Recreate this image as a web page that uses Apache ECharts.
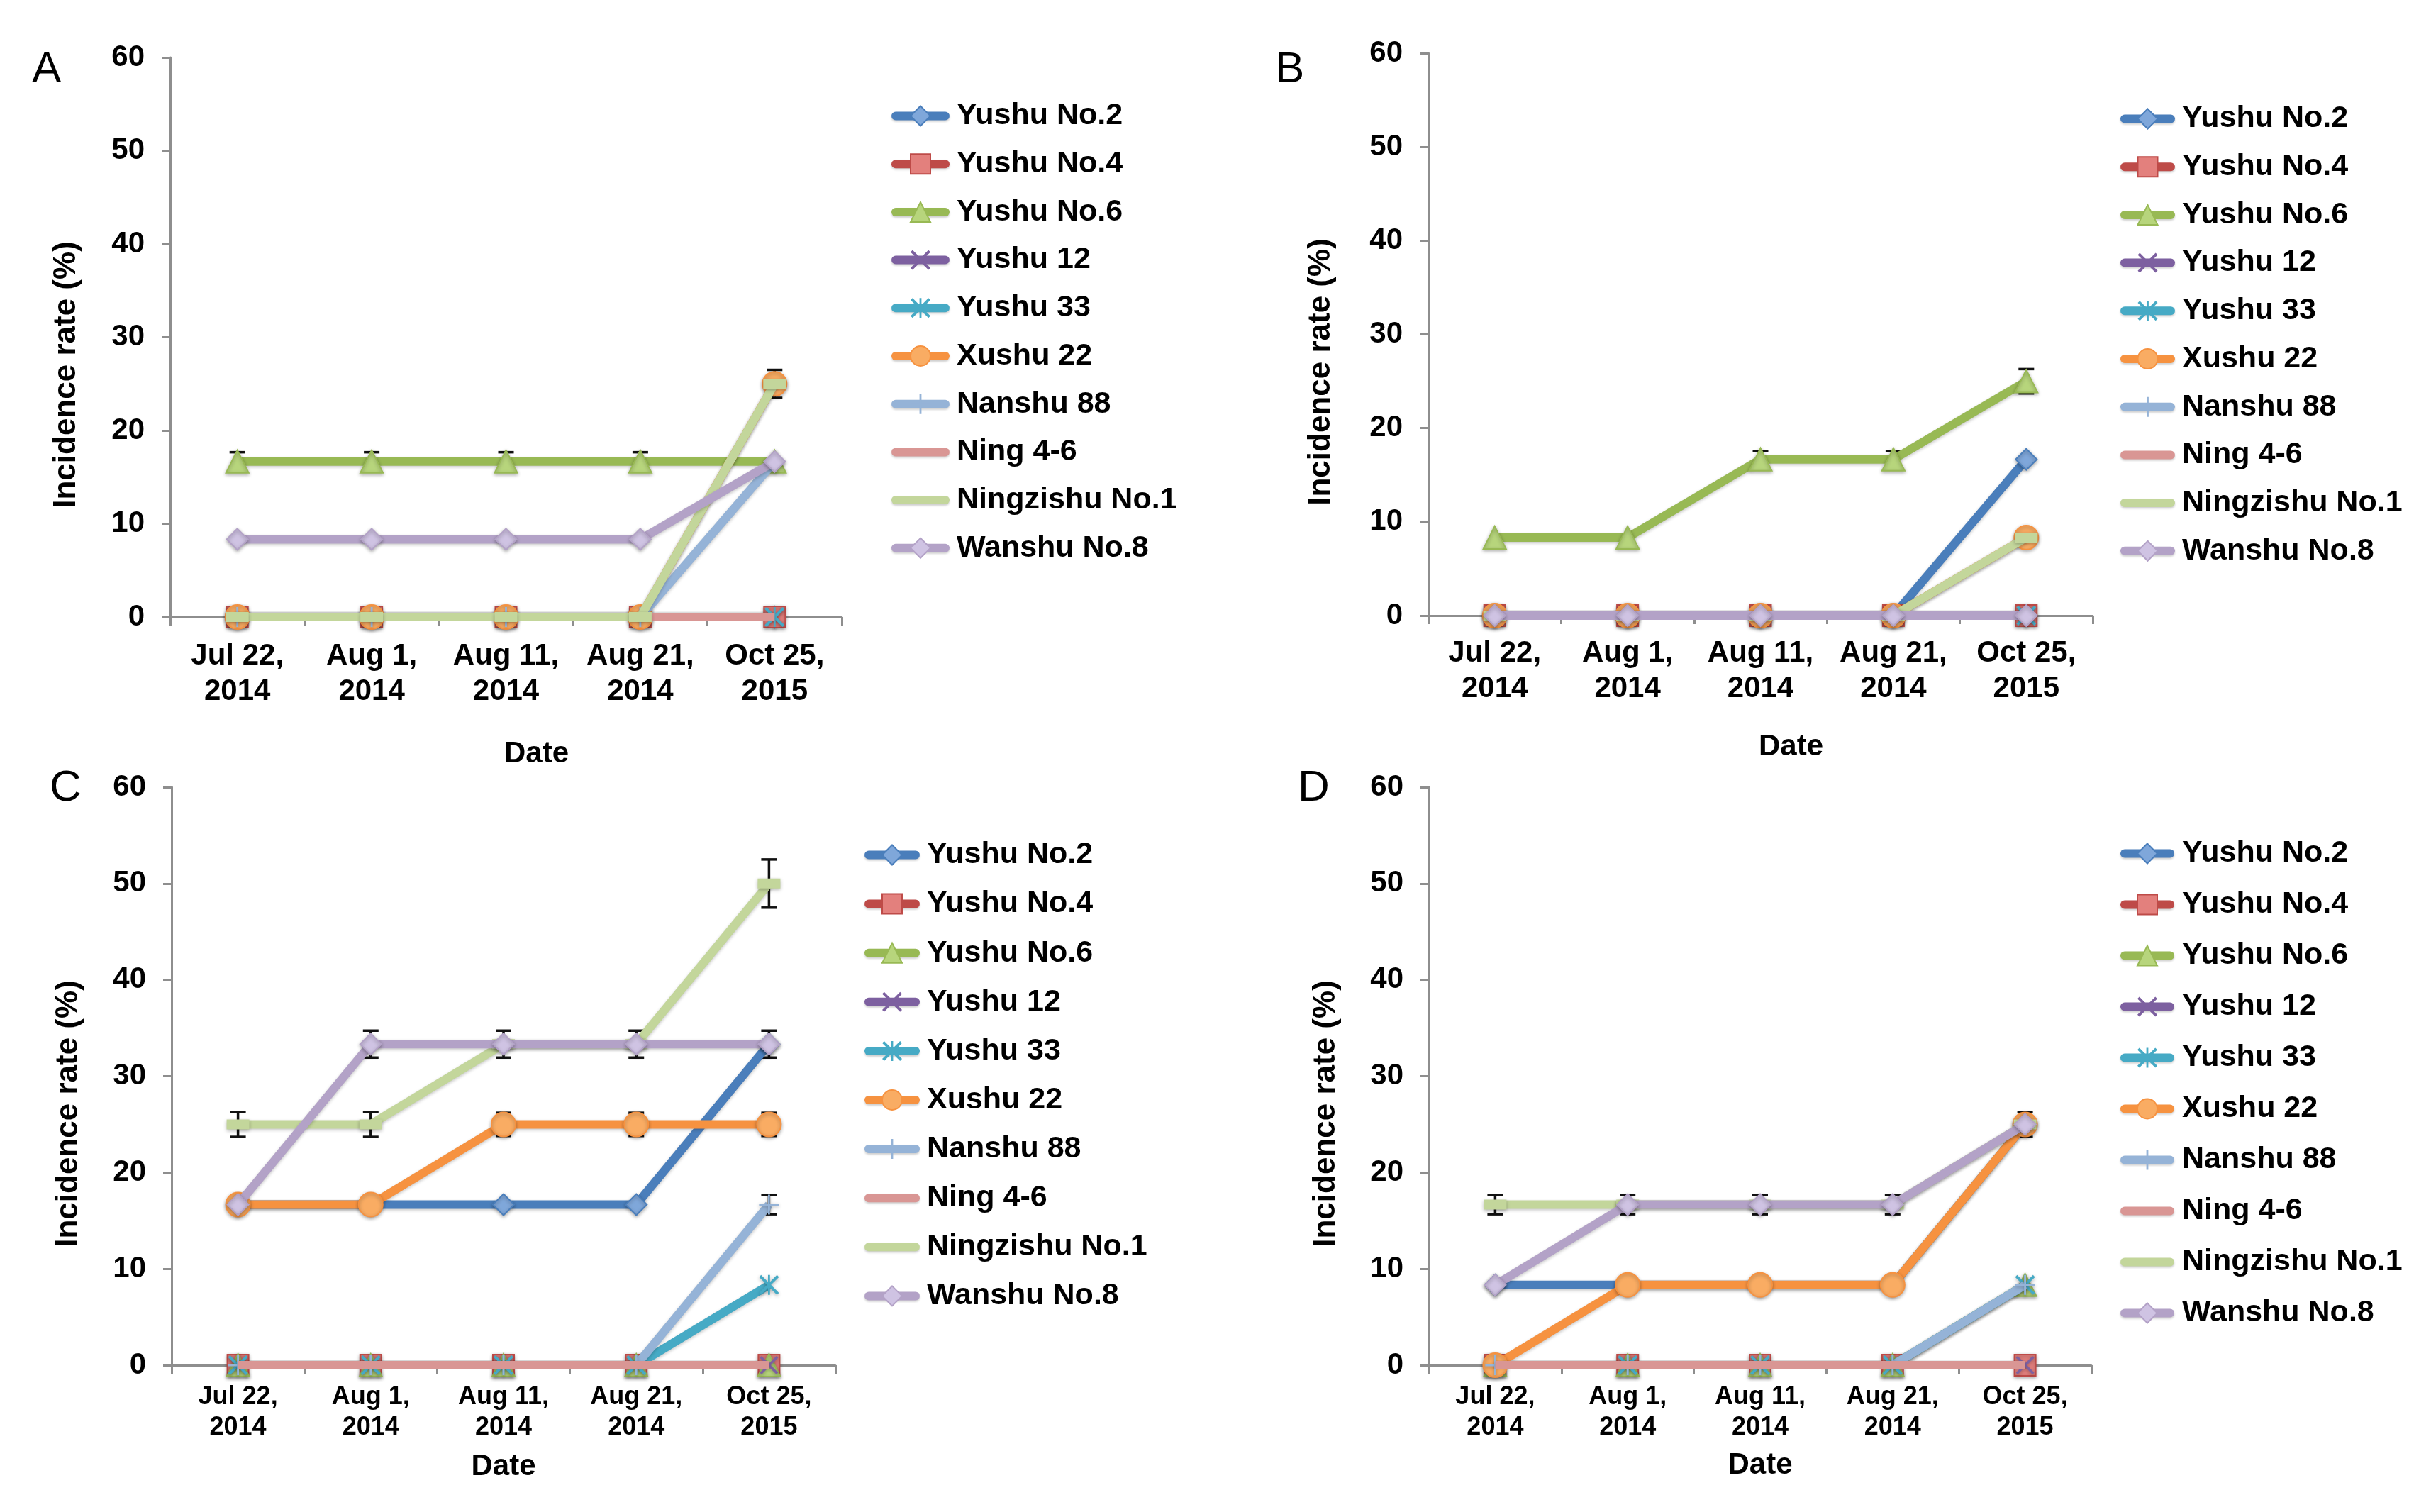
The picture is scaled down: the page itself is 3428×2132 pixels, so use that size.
<!DOCTYPE html>
<html>
<head>
<meta charset="utf-8">
<script src="https://cdn.jsdelivr.net/npm/echarts@6/dist/echarts.min.js"></script>
<style>
html,body{margin:0;padding:0;background:#fff;}
#chart{width:3428px;height:2132px;}
</style>
</head>
<body>
<div id="chart"></div>
<script>
// ---------- data ----------
const categories = ['Jul 22,\n2014', 'Aug 1,\n2014', 'Aug 11,\n2014', 'Aug 21,\n2014', 'Oct 25,\n2015'];
const seriesNames = ['Yushu No.2', 'Yushu No.4', 'Yushu No.6', 'Yushu 12', 'Yushu 33',
  'Xushu 22', 'Nanshu 88', 'Ning 4-6', 'Ningzishu No.1', 'Wanshu No.8'];
const panelLetters = ['A', 'B', 'C', 'D'];
const yMin = 0, yMax = 60, yStep = 10;

// Incidence rate (%) per series (rows in seriesNames order), per date
const valuesA = [
  [0, 0, 0, 0, 0],
  [0, 0, 0, 0, 0],
  [16.67, 16.67, 16.67, 16.67, 16.67],
  [0, 0, 0, 0, 0],
  [0, 0, 0, 0, 0],
  [0, 0, 0, 0, 25],
  [0, 0, 0, 0, 16.67],
  [0, 0, 0, 0, 0],
  [0, 0, 0, 0, 25],
  [8.33, 8.33, 8.33, 8.33, 16.67]
];
const valuesB = [
  [0, 0, 0, 0, 16.67],
  [0, 0, 0, 0, 0],
  [8.33, 8.33, 16.67, 16.67, 25],
  [0, 0, 0, 0, 0],
  [0, 0, 0, 0, 0],
  [0, 0, 0, 0, 8.33],
  [0, 0, 0, 0, 0],
  [0, 0, 0, 0, 0],
  [0, 0, 0, 0, 8.33],
  [0, 0, 0, 0, 0]
];
const valuesC = [
  [16.67, 16.67, 16.67, 16.67, 33.33],
  [0, 0, 0, 0, 0],
  [0, 0, 0, 0, 0],
  [0, 0, 0, 0, 0],
  [0, 0, 0, 0, 8.33],
  [16.67, 16.67, 25, 25, 25],
  [0, 0, 0, 0, 16.67],
  [0, 0, 0, 0, 0],
  [25, 25, 33.33, 33.33, 50],
  [16.67, 33.33, 33.33, 33.33, 33.33]
];
const valuesD = [
  [8.33, 8.33, 8.33, 8.33, 25],
  [0, 0, 0, 0, 0],
  [0, 0, 0, 0, 8.33],
  [0, 0, 0, 0, 0],
  [0, 0, 0, 0, 8.33],
  [0, 8.33, 8.33, 8.33, 25],
  [0, 0, 0, 0, 8.33],
  [0, 0, 0, 0, 0],
  [16.67, 16.67, 16.67, 16.67, 25],
  [8.33, 16.67, 16.67, 16.67, 25]
];

// error bars: [series name, date index, +/- error]
const errorsA = [
  ['Yushu No.6', 0, 1.0], ['Yushu No.6', 1, 1.0], ['Yushu No.6', 2, 1.0], ['Yushu No.6', 3, 1.0],
  ['Xushu 22', 4, 1.5]
];
const errorsB = [
  ['Yushu No.6', 2, 0.9], ['Yushu No.6', 3, 0.9], ['Yushu No.6', 4, 1.3]
];
const errorsC = [
  ['Ningzishu No.1', 0, 1.3], ['Ningzishu No.1', 1, 1.3], ['Ningzishu No.1', 4, 2.5],
  ['Wanshu No.8', 1, 1.4], ['Wanshu No.8', 2, 1.4], ['Wanshu No.8', 3, 1.4], ['Wanshu No.8', 4, 1.4],
  ['Xushu 22', 2, 1.2], ['Xushu 22', 3, 1.2], ['Xushu 22', 4, 1.2],
  ['Nanshu 88', 4, 1.0]
];
const errorsD = [
  ['Ningzishu No.1', 0, 1.0],
  ['Wanshu No.8', 1, 1.0], ['Wanshu No.8', 2, 1.0], ['Wanshu No.8', 3, 1.0],
  ['Xushu 22', 4, 1.3]
];

const panelValues = [valuesA, valuesB, valuesC, valuesD];
const panelErrors = [errorsA, errorsB, errorsC, errorsD];

// ---------- styles ----------
const X_PATH = 'path://M0,2 L2,0 L10,8 L18,0 L20,2 L12,10 L20,18 L18,20 L10,12 L2,20 L0,18 L8,10 Z';
const AST_PATH = 'path://M0,2 L2,0 L10,8 L18,0 L20,2 L12,10 L20,18 L18,20 L10,12 L2,20 L0,18 L8,10 Z M9,0 L11,0 L11,20 L9,20 Z';
const PLUS_PATH = 'path://M9,0 L11,0 L11,20 L9,20 Z M0,9 L20,9 L20,11 L0,11 Z';
const DASH_PATH = 'path://M0,0 L20,0 L20,10 L0,10 Z';

const seriesStyle = [
  { color: '#4A7EBB', fill: '#7FA7DA', symbol: 'diamond', size: 30, border: 2 },
  { color: '#BE4B48', fill: '#E3807D', symbol: 'rect', size: 30, border: 2 },
  { color: '#98B954', fill: '#B7D57C', symbol: 'triangle', size: 32, border: 2 },
  { color: '#7D60A0', fill: '#7D60A0', symbol: X_PATH, size: 26, border: 0 },
  { color: '#46AAC5', fill: '#46AAC5', symbol: AST_PATH, size: 28, border: 0 },
  { color: '#F69240', fill: '#F9AC63', symbol: 'circle', size: 34, border: 2 },
  { color: '#95B3D7', fill: '#95B3D7', symbol: PLUS_PATH, size: 28, border: 0 },
  { color: '#D99694', fill: '#D99694', symbol: 'none', size: 0, border: 0 },
  { color: '#C3D69B', fill: '#C3D69B', symbol: DASH_PATH, size: [32, 14], border: 0 },
  { color: '#B3A2C7', fill: '#CFC3E3', symbol: 'diamond', size: 30, border: 2 }
];

const FONT = '"Liberation Sans", Arial, Helvetica, sans-serif';
const AXIS_COLOR = '#8E8E8E';

const layouts = [
  { grid: { left: 240, top: 81, width: 947, height: 789 }, title: { left: 45, top: 68 },
    legend: { left: 1257, top: 142, itemWidth: 70, itemGap: 24.7, textPad: 11 },
    xFont: 42, xLine: 50, xMargin: 30, dateGap: 172, datePad: 86, yFont: 42, nameGap: 124 },
  { grid: { left: 2014, top: 75, width: 937, height: 793 }, title: { left: 1798, top: 68 },
    legend: { left: 2990, top: 146, itemWidth: 65, itemGap: 24.7, textPad: 11 },
    xFont: 42, xLine: 50, xMargin: 28, dateGap: 164, datePad: 86, yFont: 42, nameGap: 129 },
  { grid: { left: 242, top: 1110, width: 936, height: 815 }, title: { left: 70, top: 1081 },
    legend: { left: 1219, top: 1184, itemWidth: 66, itemGap: 26.1, textPad: 11 },
    xFont: 36, xLine: 43, xMargin: 24, dateGap: 122, datePad: 0, yFont: 42, nameGap: 123 },
  { grid: { left: 2015, top: 1110, width: 934, height: 815 }, title: { left: 1830, top: 1081 },
    legend: { left: 2990, top: 1182, itemWidth: 64, itemGap: 29, textPad: 12 },
    xFont: 36, xLine: 43, xMargin: 24, dateGap: 120, datePad: 0, yFont: 42, nameGap: 123 }
];

// ---------- build option ----------
const option = {
  backgroundColor: '#fff',
  animation: false,
  title: [], grid: [], xAxis: [], yAxis: [], legend: [], series: []
};

panelLetters.forEach((letter, p) => {
  const L = layouts[p];
  option.title.push({
    text: letter, left: L.title.left, top: L.title.top, padding: 0,
    textStyle: { fontFamily: FONT, fontSize: 62, fontWeight: 'normal', color: '#000' }
  });
  option.grid.push(Object.assign({ containLabel: false }, L.grid));
  option.xAxis.push({
    type: 'category', gridIndex: p, data: categories, boundaryGap: true,
    name: 'Date', nameLocation: 'middle', nameGap: L.dateGap,
    nameTextStyle: { fontFamily: FONT, fontSize: 42, fontWeight: 'bold', color: '#000',
      padding: [0, 0, 0, L.datePad] },
    axisLine: { show: true, lineStyle: { color: AXIS_COLOR, width: 3 } },
    axisTick: { show: true, length: 12, lineStyle: { color: AXIS_COLOR, width: 3 } },
    axisLabel: { interval: 0, fontFamily: FONT, fontSize: L.xFont, fontWeight: 'bold', color: '#000',
      lineHeight: L.xLine, margin: L.xMargin },
    splitLine: { show: false }
  });
  option.yAxis.push({
    type: 'value', gridIndex: p, min: yMin, max: yMax, interval: yStep,
    name: 'Incidence rate (%)', nameLocation: 'middle', nameGap: L.nameGap, nameRotate: 90,
    nameTextStyle: { fontFamily: FONT, fontSize: 44, fontWeight: 'bold', color: '#000',
      padding: [0, 106, 0, 0] },
    axisLine: { show: true, lineStyle: { color: AXIS_COLOR, width: 3 } },
    axisTick: { show: true, length: 12, lineStyle: { color: AXIS_COLOR, width: 3 } },
    axisLabel: { fontFamily: FONT, fontSize: L.yFont, fontWeight: 'bold', color: '#000', margin: 36 },
    splitLine: { show: false }
  });
  option.legend.push({
    orient: 'vertical', left: L.legend.left, top: L.legend.top,
    itemWidth: L.legend.itemWidth, itemHeight: 35, itemGap: L.legend.itemGap,
    padding: 0, selectedMode: false,
    lineStyle: { width: 12, cap: 'round', shadowBlur: 3, shadowColor: 'rgba(0,0,0,0.2)', shadowOffsetY: 2 },
    textStyle: { fontFamily: FONT, fontSize: 43, fontWeight: 'bold', color: '#000', lineHeight: 42,
      padding: [0, 0, 0, L.legend.textPad] },
    data: seriesNames.map((n, i) => {
      const st = seriesStyle[i];
      if (st.symbol === 'none' || st.symbol === DASH_PATH) {
        return { name: n, itemStyle: { opacity: 0 } };
      }
      return { name: n };
    })
  });

  const vals = panelValues[p];

  // error bars (drawn beneath the lines and markers)
  const errData = panelErrors[p].map(e => {
    const si = seriesNames.indexOf(e[0]);
    return [e[1], vals[si][e[1]], e[2]];
  });
  option.series.push({
    type: 'custom', name: 'err' + letter, xAxisIndex: p, yAxisIndex: p, z: 5,
    data: errData, silent: true,
    renderItem: function (params, api) {
      const x = api.value(0), y = api.value(1), e = api.value(2);
      const t = api.coord([x, y + e]);
      const b = api.coord([x, y - e]);
      const hw = 11;
      const s = { stroke: '#111', lineWidth: 3.5 };
      return {
        type: 'group', children: [
          { type: 'line', shape: { x1: t[0], y1: t[1], x2: b[0], y2: b[1] }, style: s },
          { type: 'line', shape: { x1: t[0] - hw, y1: t[1], x2: t[0] + hw, y2: t[1] }, style: s },
          { type: 'line', shape: { x1: b[0] - hw, y1: b[1], x2: b[0] + hw, y2: b[1] }, style: s }
        ]
      };
    }
  });

  seriesNames.forEach((n, i) => {
    const st = seriesStyle[i];
    option.series.push({
      type: 'line', name: n, xAxisIndex: p, yAxisIndex: p,
      data: vals[i], z: 10 + i,
      symbol: st.symbol, symbolSize: st.size, showSymbol: st.symbol !== 'none',
      symbolKeepAspect: false,
      lineStyle: { color: st.color, width: 12, shadowBlur: 4, shadowColor: 'rgba(0,0,0,0.22)', shadowOffsetY: 2 },
      itemStyle: { color: st.fill, borderColor: st.color, borderWidth: st.border,
        shadowBlur: 5, shadowColor: 'rgba(0,0,0,0.3)', shadowOffsetY: 2 },
      emphasis: { disabled: true },
      silent: true
    });
  });
});

const chart = echarts.init(document.getElementById('chart'), null, { renderer: 'canvas' });
chart.setOption(option);
</script>
</body>
</html>
